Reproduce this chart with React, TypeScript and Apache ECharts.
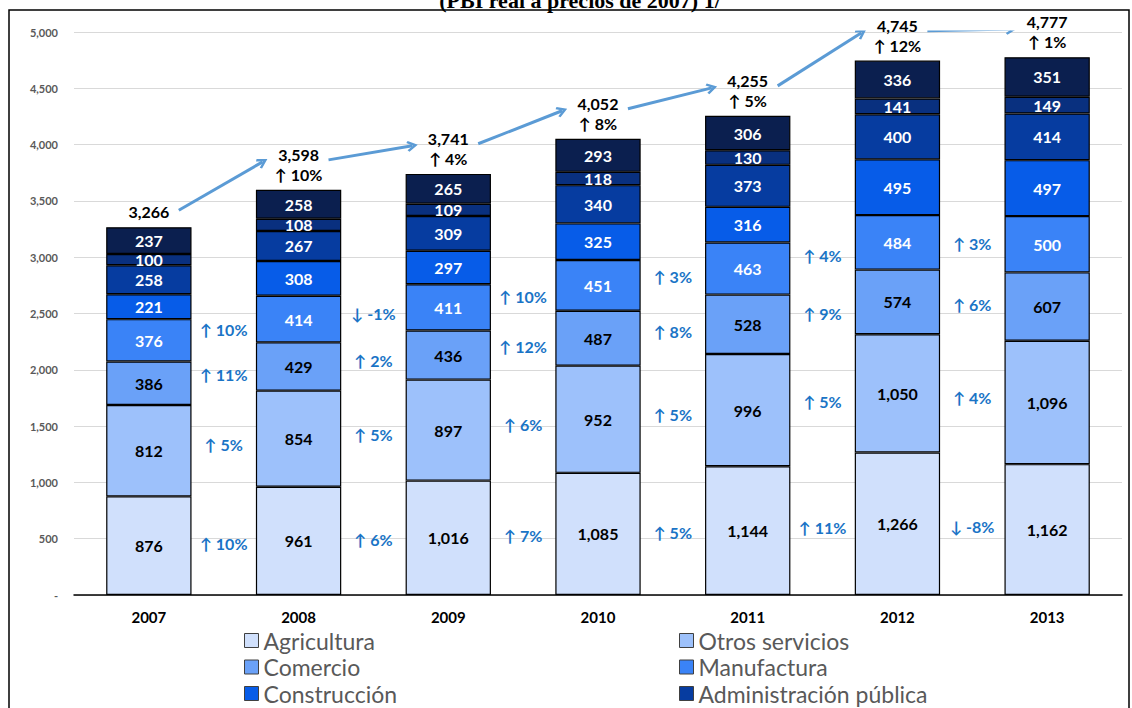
import React, { useEffect, useRef } from 'react';
import * as echarts from 'echarts';

const years = ['2007', '2008', '2009', '2010', '2011', '2012', '2013'];
const agricultura = [876, 961, 1016, 1085, 1144, 1266, 1162];
const otrosServicios = [812, 854, 897, 952, 996, 1050, 1096];
const comercio = [386, 429, 436, 487, 528, 574, 607];
const manufactura = [376, 414, 411, 451, 463, 484, 500];
const construccion = [221, 308, 297, 325, 316, 495, 497];
const administracion = [258, 267, 309, 340, 373, 400, 414];
const transporte = [100, 108, 109, 118, 130, 141, 149];
const resto = [237, 258, 265, 293, 306, 336, 351];
const totals = [3266, 3598, 3741, 4052, 4255, 4745, 4777];
const totalGrowth = [null, 10, 4, 8, 5, 12, 1];
const agriGrowth = [10, 6, 7, 5, 11, -8];
const otrosGrowth = [5, 5, 6, 5, 5, 4];
const comercioGrowth = [11, 2, 12, 8, 9, 6];
const manufGrowth = [10, -1, 10, 3, 4, 3];

const FONT = 'Lato, "Open Sans", sans-serif';
const UNITS_PER_PX = 5000 / 563;

const fmt = (v: number) => Math.round(v).toLocaleString('en-US');
const arrowTxt = (g: number) => (g < 0 ? '↓ ' : '↑ ') + g + '%';

const sectors = [
  { name: 'Agricultura', data: agricultura, color: '#d0e0fc', text: '#000000', growth: agriGrowth },
  { name: 'Otros servicios', data: otrosServicios, color: '#9dc1fb', text: '#000000', growth: otrosGrowth },
  { name: 'Comercio', data: comercio, color: '#6aa1f8', text: '#000000', growth: comercioGrowth },
  { name: 'Manufactura', data: manufactura, color: '#3a83f7', text: '#ffffff', growth: manufGrowth },
  { name: 'Construcción', data: construccion, color: '#075ce8', text: '#ffffff', growth: null },
  { name: 'Administración pública', data: administracion, color: '#063ca0', text: '#ffffff', growth: null },
  { name: 'Transporte', data: transporte, color: '#09307f', text: '#ffffff', growth: null },
  { name: 'Resto', data: resto, color: '#0b1f4f', text: '#ffffff', growth: null },
];

function buildOption() {
  const bases: number[][] = [];
  const run = years.map(() => 0);
  sectors.forEach((s) => {
    bases.push(run.slice());
    s.data.forEach((v, i) => (run[i] += v));
  });

  const barSeries = sectors.map((s) => ({
    type: 'bar',
    name: s.name,
    stack: 'pbi',
    data: s.data,
    barWidth: '57%',
    itemStyle: { color: s.color, borderColor: '#000', borderWidth: 1.2 },
    label: {
      show: true,
      position: 'inside',
      formatter: (p: any) => fmt(p.value),
      color: s.text,
      fontFamily: FONT,
      fontWeight: 'bold',
      fontSize: 16,
    },
    emphasis: { disabled: true },
    silent: true,
  }));

  const annotations: any[] = [];
  sectors.forEach((s, k) => {
    if (!s.growth) return;
    s.growth.forEach((g, i) => {
      const m1 = bases[k][i] + s.data[i] / 2;
      const m2 = bases[k][i + 1] + s.data[i + 1] / 2;
      annotations.push({ name: arrowTxt(g), value: [i + 0.5, (m1 + m2) / 2] });
    });
  });

  const arrows = totals.slice(0, -1).map((t, i) => {
    const startOff = (i === 0 ? 17 : 30) * UNITS_PER_PX;
    const endOff = 28 * UNITS_PER_PX;
    return {
      coords: [
        [i + 0.2, t + startOff],
        [i + 1 - 0.24, totals[i + 1] + endOff],
      ],
    };
  });

  const legendBase = {
    top: 629,
    orient: 'vertical',
    itemGap: 3.5,
    icon: 'rect',
    itemWidth: 14,
    itemHeight: 14,
    padding: 0,
    selectedMode: false,
    itemStyle: { borderColor: '#404040', borderWidth: 1 },
    textStyle: { fontFamily: FONT, fontSize: 23, color: '#595959', lineHeight: 23 },
  };

  return {
    animation: false,
    backgroundColor: '#ffffff',
    grid: { left: 74, right: 10, top: 32, bottom: 113, containLabel: false },
    xAxis: [
      {
        type: 'category',
        data: years,
        axisTick: { show: false },
        axisLine: { lineStyle: { color: '#000', width: 1.5 } },
        axisLabel: { color: '#000', fontFamily: FONT, fontWeight: 'bold', fontSize: 15, margin: 14 },
      },
      { type: 'value', min: -0.5, max: 6.5, show: false },
    ],
    yAxis: {
      type: 'value',
      min: 0,
      max: 5000,
      interval: 500,
      axisLine: { show: false },
      axisTick: { show: false },
      splitLine: { lineStyle: { color: '#d9d9d9', width: 1.2 } },
      axisLabel: {
        color: '#595959',
        fontFamily: FONT,
        fontWeight: 'bold',
        fontSize: 11,
        margin: 16,
        formatter: (v: number) => (v === 0 ? '-' : fmt(v)),
      },
    },
    legend: [
      { ...legendBase, left: 244, data: ['Agricultura', 'Comercio', 'Construcción'] },
      { ...legendBase, left: 679, data: ['Otros servicios', 'Manufactura', 'Administración pública'] },
    ],
    graphic: [
      {
        type: 'rect',
        silent: true,
        shape: { x: 9, y: 10, width: 1120, height: 760 },
        style: { fill: 'none', stroke: '#000', lineWidth: 1.5 },
        z: 0,
      },
      {
        type: 'text',
        x: 580,
        y: 11,
        silent: true,
        z: 10,
        style: {
          text: '(PBI real a precios de 2007) 1/',
          fontFamily: '"Liberation Serif", "Times New Roman", serif',
          fontWeight: 'bold',
          fontSize: 22,
          fill: '#000',
          align: 'center',
          verticalAlign: 'bottom',
        },
      },
    ],
    series: [
      ...barSeries,
      {
        type: 'scatter',
        name: 'Total',
        data: totals,
        symbolSize: 1,
        itemStyle: { color: 'transparent', opacity: 1 },
        silent: true,
        z: 10,
        label: {
          show: true,
          position: 'top',
          distance: 5,
          formatter: (p: any) => {
            const g = totalGrowth[p.dataIndex];
            return g == null ? `{t|${fmt(p.value)}}` : `{t|${fmt(p.value)}}\n{g|${arrowTxt(g)}}`;
          },
          rich: {
            t: { fontFamily: FONT, fontWeight: 'bold', fontSize: 16, color: '#000', lineHeight: 20 },
            g: { fontFamily: FONT, fontWeight: 'bold', fontSize: 16, color: '#000', lineHeight: 20 },
          },
        },
      },
      {
        type: 'scatter',
        name: 'Variación',
        xAxisIndex: 1,
        yAxisIndex: 0,
        data: annotations,
        symbolSize: 1,
        itemStyle: { color: 'transparent', opacity: 1 },
        silent: true,
        z: 10,
        label: {
          show: true,
          position: 'inside',
          formatter: '{b}',
          color: '#1a74c6',
          fontFamily: FONT,
          fontWeight: 'bold',
          fontSize: 16,
        },
      },
      {
        type: 'lines',
        name: 'Flechas',
        coordinateSystem: 'cartesian2d',
        xAxisIndex: 1,
        yAxisIndex: 0,
        silent: true,
        z: 9,
        symbol: ['none', 'path://M5,0L10,8.5L8.4,10L5,4.4L1.6,10L0,8.5Z'],
        symbolSize: [14, 11],
        lineStyle: { color: '#5b9bd5', width: 3, opacity: 1, curveness: 0 },
        data: arrows,
      },
    ],
  };
}

export default function App() {
  const ref = useRef<HTMLDivElement>(null);
  useEffect(() => {
    if (!ref.current) return;
    const chart = echarts.init(ref.current, null, { renderer: 'svg' });
    chart.setOption(buildOption() as any);
    return () => chart.dispose();
  }, []);
  return (
    <div
      ref={ref}
      style={{ position: 'absolute', left: 0, top: 0, width: 1132, height: 708, background: '#fff' }}
    />
  );
}
